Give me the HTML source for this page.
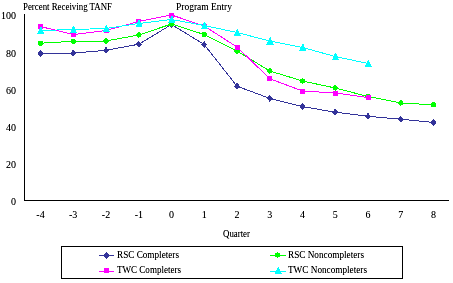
<!DOCTYPE html>
<html><head><meta charset="utf-8"><style>
html,body{margin:0;padding:0;background:#fff;width:453px;height:283px;overflow:hidden}
svg{display:block}
text{font-family:"Liberation Serif",serif;fill:#000}
</style></head><body>
<svg width="453" height="283" viewBox="0 0 453 283" shape-rendering="crispEdges">
<defs><filter id="bw" x="-10%" y="-30%" width="120%" height="160%"><feComponentTransfer><feFuncA type="linear" slope="1.2"/></feComponentTransfer></filter></defs>
<path d="M24.5 14V200.5H449" fill="none" stroke="#000" stroke-width="1"/>
<polyline points="40.5,53.6 73.2,53.1 106.0,50.3 138.8,44.2 171.5,24.5 204.2,44.5 237.0,86.2 269.8,98.4 302.5,106.6 335.2,112.2 368.0,116.3 400.8,119.2 433.5,122.5" fill="none" stroke="#333399" stroke-width="1"/>
<path d="M40.5 50.1L43.5 53.6L40.5 57.1L37.5 53.6Z" fill="#333399"/>
<path d="M73.2 49.6L76.2 53.1L73.2 56.6L70.2 53.1Z" fill="#333399"/>
<path d="M106.0 46.8L109.0 50.3L106.0 53.8L103.0 50.3Z" fill="#333399"/>
<path d="M138.8 40.7L141.8 44.2L138.8 47.7L135.8 44.2Z" fill="#333399"/>
<path d="M171.5 21.0L174.5 24.5L171.5 28.0L168.5 24.5Z" fill="#333399"/>
<path d="M204.2 41.0L207.2 44.5L204.2 48.0L201.2 44.5Z" fill="#333399"/>
<path d="M237.0 82.7L240.0 86.2L237.0 89.7L234.0 86.2Z" fill="#333399"/>
<path d="M269.8 94.9L272.8 98.4L269.8 101.9L266.8 98.4Z" fill="#333399"/>
<path d="M302.5 103.1L305.5 106.6L302.5 110.1L299.5 106.6Z" fill="#333399"/>
<path d="M335.2 108.7L338.2 112.2L335.2 115.7L332.2 112.2Z" fill="#333399"/>
<path d="M368.0 112.8L371.0 116.3L368.0 119.8L365.0 116.3Z" fill="#333399"/>
<path d="M400.8 115.7L403.8 119.2L400.8 122.7L397.8 119.2Z" fill="#333399"/>
<path d="M433.5 119.0L436.5 122.5L433.5 126.0L430.5 122.5Z" fill="#333399"/>
<polyline points="40.5,43.2 73.2,41.3 106.0,41.0 138.8,35.0 171.5,24.0 204.2,34.5 237.0,51.0 269.8,71.0 302.5,81.0 335.2,88.0 368.0,96.5 400.8,103.0 433.5,104.8" fill="none" stroke="#00FF00" stroke-width="1"/>
<circle cx="40.5" cy="43.2" r="2.6" fill="#00FF00"/>
<circle cx="73.2" cy="41.3" r="2.6" fill="#00FF00"/>
<circle cx="106.0" cy="41.0" r="2.6" fill="#00FF00"/>
<circle cx="138.8" cy="35.0" r="2.6" fill="#00FF00"/>
<circle cx="171.5" cy="24.0" r="2.6" fill="#00FF00"/>
<circle cx="204.2" cy="34.5" r="2.6" fill="#00FF00"/>
<circle cx="237.0" cy="51.0" r="2.6" fill="#00FF00"/>
<circle cx="269.8" cy="71.0" r="2.6" fill="#00FF00"/>
<circle cx="302.5" cy="81.0" r="2.6" fill="#00FF00"/>
<circle cx="335.2" cy="88.0" r="2.6" fill="#00FF00"/>
<circle cx="368.0" cy="96.5" r="2.6" fill="#00FF00"/>
<circle cx="400.8" cy="103.0" r="2.6" fill="#00FF00"/>
<circle cx="433.5" cy="104.8" r="2.6" fill="#00FF00"/>
<polyline points="40.5,26.5 73.2,34.6 106.0,30.5 138.8,21.5 171.5,15.0 204.2,26.0 237.0,47.0 269.8,78.7 302.5,91.0 335.2,93.0 368.0,97.5" fill="none" stroke="#FF00FF" stroke-width="1"/>
<rect x="38.00" y="24.00" width="5" height="5" fill="#FF00FF"/>
<rect x="70.75" y="32.10" width="5" height="5" fill="#FF00FF"/>
<rect x="103.50" y="28.00" width="5" height="5" fill="#FF00FF"/>
<rect x="136.25" y="19.00" width="5" height="5" fill="#FF00FF"/>
<rect x="169.00" y="12.50" width="5" height="5" fill="#FF00FF"/>
<rect x="201.75" y="23.50" width="5" height="5" fill="#FF00FF"/>
<rect x="234.50" y="44.50" width="5" height="5" fill="#FF00FF"/>
<rect x="267.25" y="76.20" width="5" height="5" fill="#FF00FF"/>
<rect x="300.00" y="88.50" width="5" height="5" fill="#FF00FF"/>
<rect x="332.75" y="90.50" width="5" height="5" fill="#FF00FF"/>
<rect x="365.50" y="95.00" width="5" height="5" fill="#FF00FF"/>
<polyline points="40.5,30.5 73.2,29.5 106.0,28.5 138.8,23.5 171.5,19.5 204.2,25.5 237.0,32.5 269.8,41.0 302.5,47.5 335.2,56.5 368.0,63.5" fill="none" stroke="#00FFFF" stroke-width="1"/>
<path d="M40.50 26.50L41.10 26.50L44.40 34.00L37.20 34.00Z" fill="#00FFFF"/>
<path d="M73.25 25.50L73.85 25.50L77.15 33.00L69.95 33.00Z" fill="#00FFFF"/>
<path d="M106.00 24.50L106.60 24.50L109.90 32.00L102.70 32.00Z" fill="#00FFFF"/>
<path d="M138.75 19.50L139.35 19.50L142.65 27.00L135.45 27.00Z" fill="#00FFFF"/>
<path d="M171.50 15.50L172.10 15.50L175.40 23.00L168.20 23.00Z" fill="#00FFFF"/>
<path d="M204.25 21.50L204.85 21.50L208.15 29.00L200.95 29.00Z" fill="#00FFFF"/>
<path d="M237.00 28.50L237.60 28.50L240.90 36.00L233.70 36.00Z" fill="#00FFFF"/>
<path d="M269.75 37.00L270.35 37.00L273.65 44.50L266.45 44.50Z" fill="#00FFFF"/>
<path d="M302.50 43.50L303.10 43.50L306.40 51.00L299.20 51.00Z" fill="#00FFFF"/>
<path d="M335.25 52.50L335.85 52.50L339.15 60.00L331.95 60.00Z" fill="#00FFFF"/>
<path d="M368.00 59.50L368.60 59.50L371.90 67.00L364.70 67.00Z" fill="#00FFFF"/>
<text x="16" y="19" font-size="10" text-anchor="end" filter="url(#bw)">100</text>
<text x="16" y="57" font-size="10" text-anchor="end" filter="url(#bw)">80</text>
<text x="16" y="94" font-size="10" text-anchor="end" filter="url(#bw)">60</text>
<text x="16" y="131" font-size="10" text-anchor="end" filter="url(#bw)">40</text>
<text x="16" y="168" font-size="10" text-anchor="end" filter="url(#bw)">20</text>
<text x="16" y="205" font-size="10" text-anchor="end" filter="url(#bw)">0</text>
<text x="40.5" y="218" font-size="10" text-anchor="middle" filter="url(#bw)">-4</text>
<text x="73.2" y="218" font-size="10" text-anchor="middle" filter="url(#bw)">-3</text>
<text x="106.0" y="218" font-size="10" text-anchor="middle" filter="url(#bw)">-2</text>
<text x="138.8" y="218" font-size="10" text-anchor="middle" filter="url(#bw)">-1</text>
<text x="171.5" y="218" font-size="10" text-anchor="middle" filter="url(#bw)">0</text>
<text x="204.2" y="218" font-size="10" text-anchor="middle" filter="url(#bw)">1</text>
<text x="237.0" y="218" font-size="10" text-anchor="middle" filter="url(#bw)">2</text>
<text x="269.8" y="218" font-size="10" text-anchor="middle" filter="url(#bw)">3</text>
<text x="302.5" y="218" font-size="10" text-anchor="middle" filter="url(#bw)">4</text>
<text x="335.2" y="218" font-size="10" text-anchor="middle" filter="url(#bw)">5</text>
<text x="368.0" y="218" font-size="10" text-anchor="middle" filter="url(#bw)">6</text>
<text x="400.8" y="218" font-size="10" text-anchor="middle" filter="url(#bw)">7</text>
<text x="433.5" y="218" font-size="10" text-anchor="middle" filter="url(#bw)">8</text>
<text x="23" y="10" font-size="10" text-anchor="start" textLength="89" lengthAdjust="spacingAndGlyphs" filter="url(#bw)">Percent Receiving TANF</text>
<text x="176" y="10" font-size="10" text-anchor="start" textLength="56" lengthAdjust="spacingAndGlyphs" filter="url(#bw)">Program Entry</text>
<text x="223" y="237" font-size="10" text-anchor="start" textLength="27" lengthAdjust="spacingAndGlyphs" filter="url(#bw)">Quarter</text>
<rect x="61.5" y="246.5" width="341" height="31.5" fill="none" stroke="#000" stroke-width="1"/>
<path d="M99 255.5H114" stroke="#333399" stroke-width="1"/><path d="M106.5 252.0L109.5 255.5L106.5 259.0L103.5 255.5Z" fill="#333399"/><text x="117" y="258" font-size="10" text-anchor="start" textLength="62" lengthAdjust="spacingAndGlyphs" filter="url(#bw)">RSC Completers</text>
<path d="M99 271.5H114" stroke="#FF00FF" stroke-width="1"/><rect x="103.75" y="268.00" width="5" height="5" fill="#FF00FF"/><text x="117" y="273" font-size="10" text-anchor="start" textLength="64" lengthAdjust="spacingAndGlyphs" filter="url(#bw)">TWC Completers</text>
<path d="M270 255.5H286" stroke="#00FF00" stroke-width="1"/><circle cx="277.5" cy="255.0" r="2.6" fill="#00FF00"/><text x="288" y="258" font-size="10" text-anchor="start" textLength="76" lengthAdjust="spacingAndGlyphs" filter="url(#bw)">RSC Noncompleters</text>
<path d="M270 271.5H286" stroke="#00FFFF" stroke-width="1"/><path d="M278.00 266.60L278.60 266.60L281.90 274.10L274.70 274.10Z" fill="#00FFFF"/><text x="288" y="273" font-size="10" text-anchor="start" textLength="79" lengthAdjust="spacingAndGlyphs" filter="url(#bw)">TWC Noncompleters</text>
</svg>
</body></html>
